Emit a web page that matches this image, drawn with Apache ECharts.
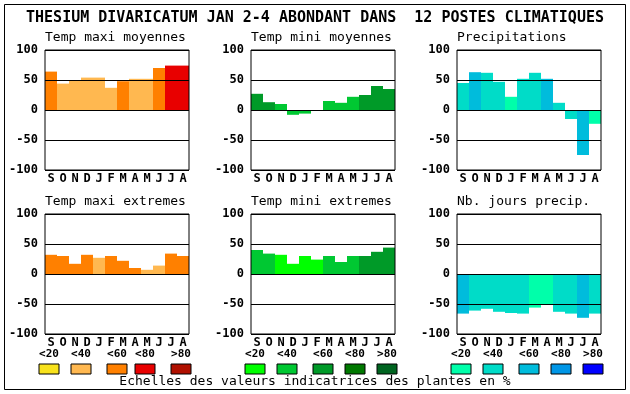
<!DOCTYPE html>
<html><head><meta charset="utf-8">
<script src="https://cdn.jsdelivr.net/npm/echarts@6/dist/echarts.min.js"></script>
<style>html,body{margin:0;padding:0;background:#fff}#c{width:630px;height:394px}</style>
</head><body><div id="c"></div>
<script>
const months = ['S','O','N','D','J','F','M','A','M','J','J','A'];
const yTicks = [-100, -50, 0, 50, 100];
const scaleLabels = ['<20','<40','<60','<80','>80'];

const titles = ['Temp maxi moyennes','Temp mini moyennes','Precipitations',
                'Temp maxi extremes','Temp mini extremes','Nb. jours precip.'];

const tempMaxiMoy   = [64, 44, 50, 54, 54, 37, 48, 52, 52, 70, 74, 74];
const tempMiniMoy   = [27, 13, 10, -8, -6, 0, 15, 12, 22, 25, 40, 35];
const precip        = [45, 63, 62, 47, 22, 52, 62, 52, 12, -15, -75, -23];
const tempMaxiExt   = [32, 30, 17, 32, 27, 30, 22, 10, 7, 14, 34, 30];
const tempMiniExt   = [40, 34, 32, 17, 30, 24, 30, 20, 30, 30, 37, 44];
const nbJoursPrecip = [-66, -61, -58, -63, -65, -66, -56, -51, -63, -66, -73, -66];

// colour class per bar (0:<20 1:<40 2:<60 3:<80 4:>80)
const clsMaxiMoy  = [2,1,1,1,1,1,2,1,1,2,3,3];
const clsMiniMoy  = [2,2,1,1,1,1,1,1,1,2,2,2];
const clsPrecip   = [1,2,1,1,0,1,1,2,1,1,2,0];
const clsMaxiExt  = [2,2,2,2,1,2,2,2,1,1,2,2];
const clsMiniExt  = [1,1,0,0,0,0,1,1,1,2,2,2];
const clsNbJours  = [2,1,1,1,1,1,0,0,1,1,2,1];

const palOrange = ['#F8E21C','#FFB850','#FF8000','#E80000','#B01000'];
const palGreen  = ['#00FF00','#00C832','#009A28','#007800','#006420'];
const palBlue   = ['#00FFAA','#00DCC8','#00BCDC','#0096E6','#0000FF'];

const panels = [
  {v: tempMaxiMoy, c: clsMaxiMoy, p: palOrange},
  {v: tempMiniMoy, c: clsMiniMoy, p: palGreen},
  {v: precip, c: clsPrecip, p: palBlue},
  {v: tempMaxiExt, c: clsMaxiExt, p: palOrange},
  {v: tempMiniExt, c: clsMiniExt, p: palGreen},
  {v: nbJoursPrecip, c: clsNbJours, p: palBlue}
];

const lefts = [45, 251, 457];
const tops = [50, 214];
const mono = 'DejaVu Sans Mono';

const grid = [], xAxis = [], yAxis = [], series = [], graphic = [];
panels.forEach((pn, i) => {
  const col = i % 3, row = Math.floor(i / 3);
  grid.push({left: lefts[col], top: tops[row], width: 144, height: 120,
    show: true, borderColor: '#000', borderWidth: 1, backgroundColor: 'transparent', z: 10});
  xAxis.push({type: 'category', gridIndex: i, data: months, boundaryGap: true,
    axisLine: {show: false}, axisTick: {show: false},
    axisLabel: {interval: 0, margin: 3, color: '#000', fontFamily: mono, fontWeight: 'bold', fontSize: 12}});
  yAxis.push({type: 'value', gridIndex: i, min: yTicks[0], max: yTicks[yTicks.length-1], interval: 50, z: 10,
    axisLine: {show: false}, axisTick: {show: false},
    splitLine: {show: true, lineStyle: {color: '#000', width: 1}},
    axisLabel: {margin: 7, color: '#000', fontFamily: mono, fontWeight: 'bold', fontSize: 12}});
  series.push({type: 'bar', xAxisIndex: i, yAxisIndex: i, barWidth: '100%', barGap: 0,
    data: pn.v.map((v, k) => ({value: v, itemStyle: {color: pn.p[pn.c[k]]}})),
    animation: false});
  graphic.push({type: 'text', left: lefts[col], top: tops[row] - 19,
    style: {text: titles[i], font: '13px "' + mono + '"', fill: '#000'}});
});

// legend swatches and labels
const swX = [[39,71,107,135,171],[245,277,313,345,377],[451,483,519,551,583]];
const pals = [palOrange, palGreen, palBlue];
swX.forEach((xs, g) => {
  xs.forEach((x, k) => {
    graphic.push({type: 'rect', shape: {x: x, y: 364, width: 20, height: 10},
      style: {fill: pals[g][k], stroke: '#000', lineWidth: 1}});
    graphic.push({type: 'text', x: x + 10, y: 354,
      style: {text: scaleLabels[k], font: 'bold 11px "' + mono + '"', fill: '#000', textAlign: 'center', textVerticalAlign: 'middle'}});
  });
});

graphic.push({type: 'rect', shape: {x: 4.5, y: 4.5, width: 621, height: 385},
  style: {fill: 'none', stroke: '#000', lineWidth: 1}});
graphic.push({type: 'text', x: 315, y: 18,
  style: {text: 'THESIUM DIVARICATUM JAN 2-4 ABONDANT DANS  12 POSTES CLIMATIQUES',
    font: 'bold 15px "' + mono + '"', fill: '#000', textAlign: 'center', textVerticalAlign: 'middle'}});
graphic.push({type: 'text', x: 315, y: 382,
  style: {text: 'Echelles des valeurs indicatrices des plantes en %',
    font: '13px "' + mono + '"', fill: '#000', textAlign: 'center', textVerticalAlign: 'middle'}});

const chart = echarts.init(document.getElementById('c'), null, {renderer: 'canvas'});
chart.setOption({animation: false, backgroundColor: '#fff', grid, xAxis, yAxis, series, graphic});
</script></body></html>
